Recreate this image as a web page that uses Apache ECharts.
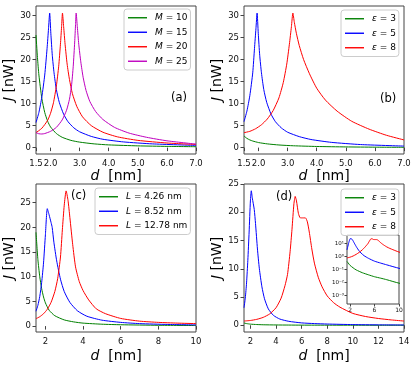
<!DOCTYPE html>
<html>
<head>
<meta charset="utf-8">
<script src="https://cdn.jsdelivr.net/npm/echarts@6/dist/echarts.min.js"></script>
<style>
  html, body { margin: 0; padding: 0; background: #fff; }
  #chart { width: 415px; height: 366px; }
</style>
</head>
<body>
<div id="chart"></div>
<script>
// (a) varying M
var aM10D = [1.5, 1.55, 1.6, 1.7, 1.8, 1.9, 2.0, 2.2, 2.4, 2.7, 3.0, 3.5, 4.0, 5.0, 6.0, 7.0];
var aM10J = [25.6, 20.5, 16.5, 11.2, 8.0, 6.0, 4.7, 3.2, 2.35, 1.65, 1.25, 0.85, 0.62, 0.4, 0.28, 0.21];
var aM15D = [1.5, 1.6, 1.7, 1.8, 1.88, 1.93, 1.97, 2.01, 2.06, 2.12, 2.2, 2.3, 2.45, 2.6, 2.8, 3.0, 3.4, 3.8, 4.5, 5.5, 7.0];
var aM15J = [5.7, 8.0, 11.5, 16.5, 22.5, 27, 30.6, 26, 21, 17, 13.2, 10.3, 7.6, 5.9, 4.5, 3.6, 2.55, 1.9, 1.3, 0.85, 0.5];
var aM20D = [1.5, 1.7, 1.9, 2.0, 2.1, 2.2, 2.28, 2.34, 2.38, 2.41, 2.45, 2.5, 2.57, 2.65, 2.75, 2.9, 3.1, 3.4, 3.8, 4.3, 5.0, 6.0, 7.0];
var aM20J = [3.4, 4.4, 6.2, 7.8, 10.2, 14, 18.5, 23.5, 27.5, 30.6, 27.5, 23.5, 19, 15.5, 12.3, 9.4, 7.0, 5.0, 3.5, 2.45, 1.65, 1.05, 0.72];
var aM25D = [1.5, 1.6, 1.7, 1.8, 2.0, 2.2, 2.4, 2.55, 2.65, 2.72, 2.78, 2.83, 2.86, 2.88, 2.92, 2.97, 3.04, 3.12, 3.22, 3.35, 3.55, 3.8, 4.2, 4.7, 5.3, 6.0, 7.0];
var aM25J = [3.4, 3.15, 3.1, 3.2, 3.7, 4.6, 6.3, 8.5, 11, 14, 18.5, 24, 28, 30.6, 27.5, 23.5, 19.5, 16, 13, 10.5, 8.2, 6.4, 4.6, 3.3, 2.35, 1.55, 0.8];

// (b) varying epsilon
var bE3D = [1.5, 1.6, 1.7, 1.8, 2.0, 2.3, 2.7, 3.2, 4.0, 5.0, 6.0, 7.0];
var bE3J = [2.65, 2.1, 1.75, 1.5, 1.15, 0.85, 0.6, 0.42, 0.26, 0.16, 0.1, 0.07];
var bE5D = [1.5, 1.6, 1.7, 1.8, 1.86, 1.91, 1.95, 1.99, 2.04, 2.1, 2.18, 2.28, 2.43, 2.58, 2.78, 3.0, 3.4, 3.8, 4.5, 5.5, 7.0];
var bE5J = [5.9, 8.3, 11.8, 17, 22.5, 27, 30.6, 26, 21, 17, 13.2, 10.3, 7.6, 5.9, 4.5, 3.5, 2.5, 1.85, 1.2, 0.7, 0.35];
var bE8D = [1.5, 1.7, 1.9, 2.1, 2.3, 2.5, 2.7, 2.85, 2.97, 3.06, 3.13, 3.18, 3.23, 3.3, 3.4, 3.55, 3.75, 4.0, 4.3, 4.7, 5.2, 5.8, 6.4, 7.0];
var bE8J = [3.4, 3.7, 4.3, 5.2, 6.5, 8.4, 11.3, 14.8, 19, 23.5, 27.5, 30.6, 28.5, 26, 23.2, 20, 16.8, 13.5, 10.8, 8.3, 6.0, 4.2, 2.8, 1.75];

// (c) varying L
var cL1D = [1.5, 1.6, 1.7, 1.8, 1.9, 2.0, 2.2, 2.5, 3.0, 3.5, 4.0, 5.0, 6.0, 8.0, 10.0];
var cL1J = [19.0, 13.5, 10.0, 7.6, 5.9, 4.7, 3.2, 2.1, 1.25, 0.85, 0.6, 0.38, 0.27, 0.16, 0.11];
var cL2D = [1.5, 1.6, 1.7, 1.8, 1.9, 2.0, 2.1, 2.2, 2.3, 2.36, 2.45, 2.6, 2.8, 3.0, 3.3, 3.7, 4.2, 5.0, 6.0, 7.0, 8.5, 10.0];
var cL2J = [3.0, 4.2, 6.0, 8.8, 12.8, 18.5, 23.8, 22.5, 21.0, 20.0, 17.0, 13.2, 9.5, 7.0, 4.8, 3.1, 2.0, 1.2, 0.75, 0.5, 0.33, 0.24];
var cL3D = [1.5, 1.7, 1.9, 2.1, 2.3, 2.5, 2.65, 2.8, 2.9, 3.0, 3.1, 3.2, 3.3, 3.45, 3.6, 3.8, 4.0, 4.3, 4.7, 5.2, 6.0, 7.0, 8.0, 9.0, 10.0];
var cL3J = [1.5, 1.9, 2.5, 3.4, 4.8, 7.0, 9.6, 14, 19.5, 24.5, 27.4, 25.5, 22, 16.5, 12, 9, 7.2, 5.3, 3.5, 2.5, 1.55, 1.0, 0.75, 0.6, 0.5];

// (d) varying epsilon, wider range (also used by the log inset)
var dE3D = [1.5, 1.7, 2.0, 2.5, 3.0, 4.0, 5.0, 6.0, 7.0, 8.0, 10.0, 12.0, 14.0];
var dE3J = [0.4, 0.3, 0.2, 0.13, 0.09, 0.055, 0.038, 0.027, 0.021, 0.016, 0.0087, 0.006, 0.0045];
var dE5D = [1.5, 1.6, 1.7, 1.8, 1.9, 2.0, 2.07, 2.15, 2.3, 2.4, 2.55, 2.7, 2.9, 3.1, 3.4, 3.8, 4.3, 5.0, 6.0, 7.0, 8.0, 10.0, 12.0, 14.0];
var dE5J = [3.1, 4.8, 7.5, 11.5, 16.5, 22, 23.8, 22.5, 20.5, 18, 13.5, 10.0, 6.8, 4.7, 2.9, 1.75, 1.1, 0.7, 0.42, 0.3, 0.22, 0.12, 0.075, 0.05];
var dE8D = [1.5, 2.0, 2.5, 3.0, 3.5, 4.0, 4.4, 4.7, 4.9, 5.1, 5.25, 5.4, 5.5, 5.6, 5.75, 5.9, 6.1, 6.3, 6.45, 6.6, 6.8, 7.0, 7.3, 7.6, 8.0, 8.5, 9.0, 10.0, 11.0, 12.0, 13.0, 14.0];
var dE8J = [0.75, 0.85, 1.05, 1.4, 2.0, 3.1, 4.8, 7.0, 9.0, 13, 17, 21.5, 22.8, 22, 19.8, 19.0, 19.0, 19.0, 18.3, 16.5, 13.5, 11.0, 8.5, 6.8, 5.2, 4.0, 3.2, 2.1, 1.55, 1.2, 0.95, 0.75];

// ticks
var abXTicks = [1.5, 2, 3, 4, 5, 6, 7];
var cXTicks = [2, 4, 6, 8, 10];
var dXTicks = [2, 4, 6, 8, 10, 12, 14];
var abYTicks = [0, 5, 10, 15, 20, 25, 30];
var cdYTicks = [0, 5, 10, 15, 20, 25];
var insetXTicks = [2, 6, 10];

var FONT = 'DejaVu Sans';
var AX = '#444';
var GREEN = '#008000', BLUE = '#0000ff', RED = '#ff0000', MAG = '#bf00bf';

function pts(xs, ys) {
  return xs.map(function (x, i) { return [x, ys[i]]; });
}

function line(name, color, idx, xs, ys) {
  return {
    name: name, type: 'line', xAxisIndex: idx, yAxisIndex: idx,
    data: pts(xs, ys), symbol: 'none', showSymbol: false, smooth: 0.2,
    lineStyle: { color: color, width: 1 }, itemStyle: { color: color }
  };
}

function xAxis(idx, min, max, ticks, fmt, gap) {
  return {
    type: 'value', gridIndex: idx, min: min, max: max,
    name: '{i|d}  [nm]', nameLocation: 'middle', nameGap: gap,
    nameTextStyle: { fontFamily: FONT, fontSize: 14, color: '#000',
      rich: { i: { fontFamily: FONT, fontSize: 14, fontStyle: 'italic', color: '#000' } } },
    axisLine: { show: false }, splitLine: { show: false },
    axisTick: { show: true, length: 3.5, customValues: ticks, lineStyle: { color: AX } },
    axisLabel: { customValues: ticks, formatter: fmt, fontFamily: FONT, fontSize: 8.5, color: '#111', margin: 5 }
  };
}

function yAxis(idx, min, max, ticks) {
  return {
    type: 'value', gridIndex: idx, min: min, max: max,
    name: '{i|J} [nW]', nameLocation: 'middle', nameGap: 19,
    nameTextStyle: { fontFamily: FONT, fontSize: 14, color: '#000',
      rich: { i: { fontFamily: FONT, fontSize: 14, fontStyle: 'italic', color: '#000' } } },
    axisLine: { show: false }, splitLine: { show: false },
    axisTick: { show: true, length: 3.5, customValues: ticks, lineStyle: { color: AX } },
    axisLabel: { customValues: ticks, fontFamily: FONT, fontSize: 8.5, color: '#111', margin: 5 }
  };
}

function legend(names, left, top) {
  return {
    data: names, left: left, top: top, orient: 'vertical',
    icon: 'rect', itemWidth: 19, itemHeight: 1.4, itemGap: 1, padding: [2, 3, 2, 4],
    selectedMode: false,
    backgroundColor: 'rgba(255,255,255,0.8)', borderColor: '#cccccc', borderWidth: 1, borderRadius: 3,
    formatter: function (n) {
      var p = n.split(' ');
      return '{i|' + p[0] + '} ' + p.slice(1).join(' ');
    },
    textStyle: { fontFamily: FONT, fontSize: 9, color: '#000', lineHeight: 13.5, padding: [0, 0, 0, 3],
      rich: { i: { fontFamily: FONT, fontSize: 9, fontStyle: 'italic', color: '#000', lineHeight: 13.5 } } }
  };
}

function tag(text, left, top) {
  return { text: text, left: left, top: top, padding: 0,
    textStyle: { fontFamily: FONT, fontSize: 11.5, fontWeight: 'normal', color: '#000' } };
}

var sup = { '-': '\u207b', '0': '\u2070', '1': '\u00b9', '2': '\u00b2', '3': '\u00b3' };
function powLabel(v) {
  var e = String(Math.round(Math.log10(v)));
  return '10' + e.split('').map(function (c) { return sup[c]; }).join('');
}

var one = function (v) { return v.toFixed(1); };
var plain = function (v) { return String(v); };

var gridBase = { show: true, borderColor: AX, borderWidth: 1, containLabel: false };

var option = {
  animation: false,
  backgroundColor: '#fff',
  title: [tag('(a)', 171, 92), tag('(b)', 380, 93), tag('(c)', 71, 190), tag('(d)', 276, 191)],
  grid: [
    Object.assign({ left: 36, top: 6, width: 160, height: 148 }, gridBase),
    Object.assign({ left: 244, top: 6, width: 160, height: 148 }, gridBase),
    Object.assign({ left: 36, top: 184, width: 160, height: 148 }, gridBase),
    Object.assign({ left: 244, top: 184, width: 160, height: 148 }, gridBase),
    Object.assign({ left: 347, top: 235, width: 52, height: 69, backgroundColor: '#fff' }, gridBase)
  ],
  xAxis: [
    xAxis(0, 1.5, 7, abXTicks, one, 13),
    xAxis(1, 1.5, 7, abXTicks, one, 13),
    xAxis(2, 1.5, 10, cXTicks, plain, 17),
    xAxis(3, 1.5, 14, dXTicks, plain, 17),
    {
      type: 'value', gridIndex: 4, min: 1.5, max: 10,
      axisLine: { show: false }, splitLine: { show: false },
      axisTick: { show: true, length: 2.5, customValues: insetXTicks, lineStyle: { color: AX } },
      axisLabel: { customValues: insetXTicks, fontFamily: FONT, fontSize: 6, color: '#111', margin: 3 }
    }
  ],
  yAxis: [
    yAxis(0, -1.45, 32.2, abYTicks),
    yAxis(1, -1.45, 32.2, abYTicks),
    yAxis(2, -1.2, 28.8, cdYTicks),
    yAxis(3, -1.19, 25.0, cdYTicks),
    {
      type: 'log', logBase: 10, gridIndex: 4, min: 2.2e-4, max: 42.6,
      axisLine: { show: false }, splitLine: { show: false },
      axisTick: { show: true, length: 2.5, lineStyle: { color: AX } },
      axisLabel: { formatter: powLabel, showMinLabel: false, showMaxLabel: false,
        fontFamily: FONT, fontSize: 5.5, color: '#111', margin: 3 }
    }
  ],
  legend: [
    legend(['M = 10', 'M = 15', 'M = 20', 'M = 25'], 124, 9),
    legend(['\u03b5 = 3', '\u03b5 = 5', '\u03b5 = 8'], 341, 10),
    legend(['L = 4.26 nm', 'L = 8.52 nm', 'L = 12.78 nm'], 95, 188),
    legend(['\u03b5 = 3', '\u03b5 = 5', '\u03b5 = 8'], 341, 189)
  ],
  series: [
    line('M = 10', GREEN, 0, aM10D, aM10J),
    line('M = 15', BLUE, 0, aM15D, aM15J),
    line('M = 20', RED, 0, aM20D, aM20J),
    line('M = 25', MAG, 0, aM25D, aM25J),
    line('\u03b5 = 3', GREEN, 1, bE3D, bE3J),
    line('\u03b5 = 5', BLUE, 1, bE5D, bE5J),
    line('\u03b5 = 8', RED, 1, bE8D, bE8J),
    line('L = 4.26 nm', GREEN, 2, cL1D, cL1J),
    line('L = 8.52 nm', BLUE, 2, cL2D, cL2J),
    line('L = 12.78 nm', RED, 2, cL3D, cL3J),
    line('\u03b5 = 3', GREEN, 3, dE3D, dE3J),
    line('\u03b5 = 5', BLUE, 3, dE5D, dE5J),
    line('\u03b5 = 8', RED, 3, dE8D, dE8J),
    line('\u03b5 = 3', GREEN, 4, dE3D, dE3J),
    line('\u03b5 = 5', BLUE, 4, dE5D, dE5J),
    line('\u03b5 = 8', RED, 4, dE8D, dE8J)
  ]
};

var chart = echarts.init(document.getElementById('chart'), null, { renderer: 'canvas' });
chart.setOption(option);
</script>
</body>
</html>
